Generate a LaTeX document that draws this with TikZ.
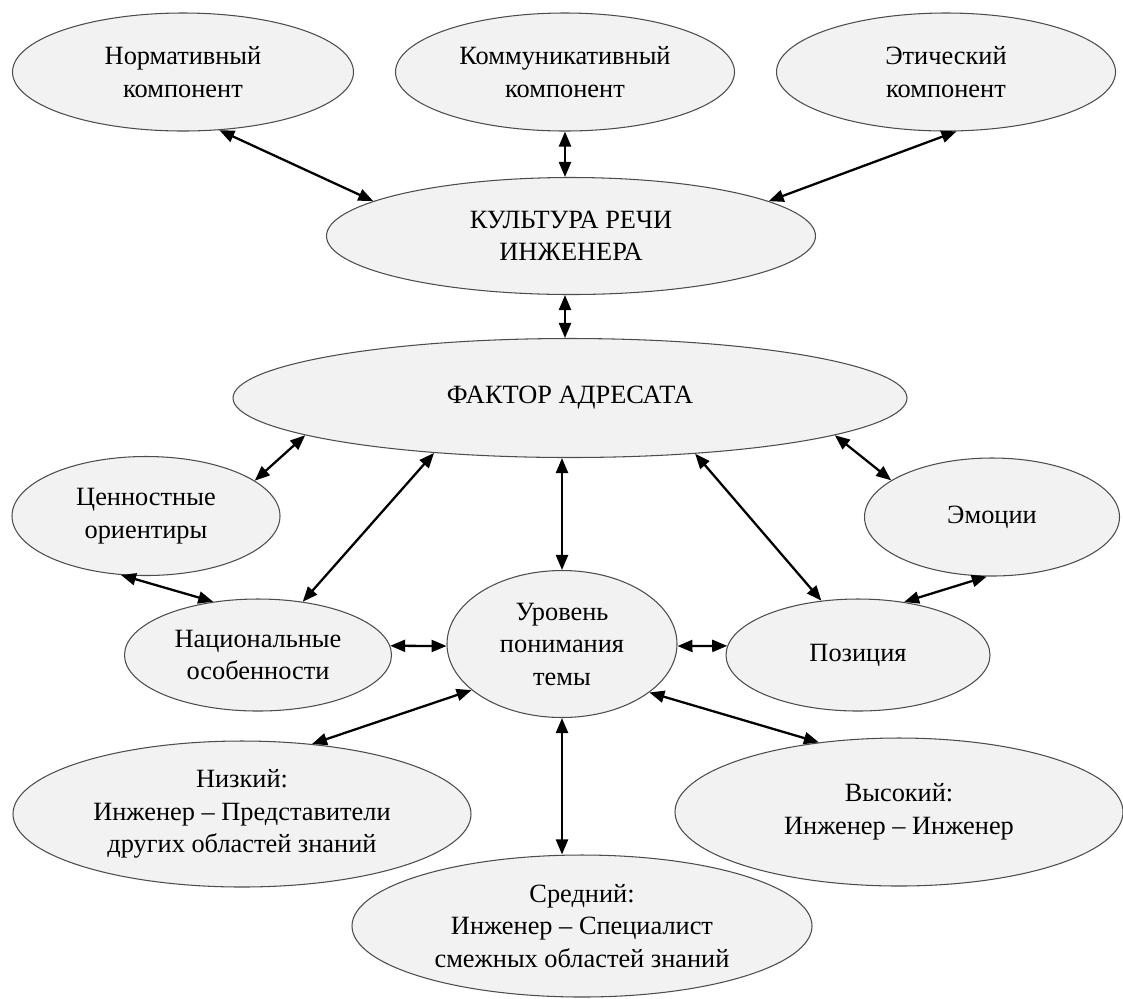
\documentclass[tikz,border=0pt]{standalone}
\usepackage{fontspec}
\setmainfont{Liberation Serif}
\usetikzlibrary{arrows.meta, shapes.geometric}
\definecolor{ovalgray}{RGB}{242,242,242}

\begin{document}
\begin{tikzpicture}[every node/.style={draw=black!70, fill=ovalgray, ellipse, align=center,
						inner sep=0pt, line width=0.6pt, font=\fontsize{15}{18.5}\selectfont},
			link/.style={<->, >={Triangle[length=3mm, width=2.4mm]}, line width=1.3pt}]
			\useasboundingbox (0,0) rectangle (22.46,-19.96);
			\node[minimum width=6.82cm, minimum height=2.36cm] (NK) at (3.66,-1.44) {Нормативный\\компонент};
			\node[minimum width=6.78cm, minimum height=2.36cm] (KK) at (11.3,-1.44) {Коммуникативный\\компонент};
			\node[minimum width=6.78cm, minimum height=2.36cm] (EK) at (18.92,-1.44) {Этический\\компонент};
			\node[minimum width=9.78cm, minimum height=2.34cm] (KR) at (11.42,-4.72) {КУЛЬТУРА РЕЧИ\\ИНЖЕНЕРА};
			\node[minimum width=13.48cm, minimum height=2.38cm] (FA) at (11.4,-7.96) {ФАКТОР АДРЕСАТА};
			\node[minimum width=5.36cm, minimum height=2.38cm] (CO) at (2.92,-10.32) {Ценностные\\ориентиры};
			\node[minimum width=5.1cm, minimum height=2.36cm] (EM) at (19.84,-10.34) {Эмоции};
			\node[minimum width=5.34cm, minimum height=2.24cm] (NO) at (5.16,-13.1) {Национальные\\особенности};
			\node[minimum width=4.6cm, minimum height=2.94cm] (UP) at (11.24,-12.88) {Уровень\\понимания\\темы};
			\node[minimum width=5.28cm, minimum height=2.24cm] (PO) at (17.16,-13.1) {Позиция};
			\node[minimum width=9.16cm, minimum height=2.92cm] (NZ) at (4.84,-16.28) {Низкий:\\Инженер – Представители\\других областей знаний};
			\node[minimum width=8.96cm, minimum height=2.96cm] (VS) at (17.98,-16.24) {Высокий:\\Инженер – Инженер};
			\node[minimum width=9.2cm, minimum height=2.84cm] (SR) at (11.64,-18.52) {Средний:\\Инженер – Специалист\\смежных областей знаний};

			\draw[link] (NK.-58) -- (KR.170);
			\draw[link] (KK.south) -- (KK.south |- KR.north);
			\draw[link] (EK.-80) -- (KR.10);
			\draw[link] (KK.south |- KR.south) -- (KK.south |- FA.north);
			\draw[link] (FA.188) -- (CO.18);
			\draw[link] (FA.202) -- (NO.50);
			\draw[link] (UP.north |- FA.south) -- (UP.north);
			\draw[link] (FA.-24) -- (PO.124);
			\draw[link] (FA.-8) -- (EM.160);
			\draw[link] (CO.247) -- (NO.130);
			\draw[link] (NO.4) -- (UP.181);
			\draw[link] (UP.-1) -- (PO.176);
			\draw[link] (EM.265) -- (PO.49);
			\draw[link] (UP.207) -- (NZ.45);
			\draw[link] (UP.south) -- (UP.south |- SR.north);
			\draw[link] (UP.-29) -- (VS.139);
		\end{tikzpicture}
\end{document}
